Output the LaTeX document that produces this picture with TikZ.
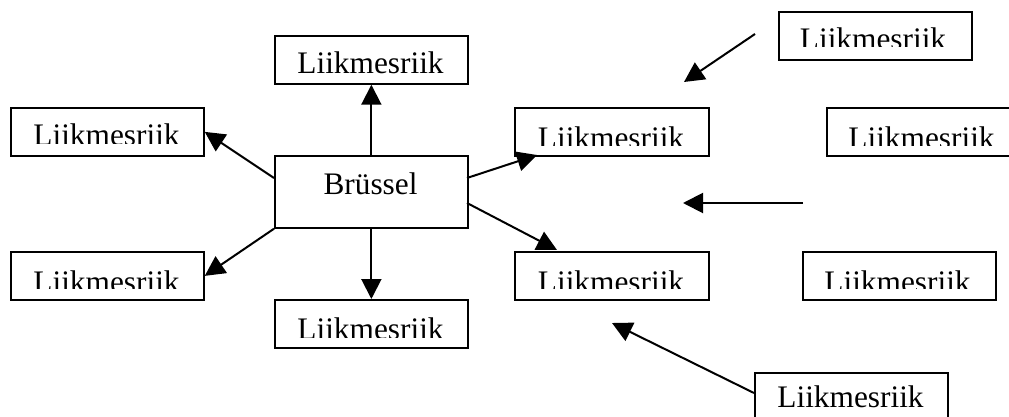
\documentclass[tikz,border=0pt]{standalone}
\usepackage{fontspec}
\setmainfont{Liberation Serif}
\usetikzlibrary{arrows.meta,calc}
\begin{document}
\begin{tikzpicture}[x=0.75pt,y=-0.75pt,
  box/.style={draw, line width=1.3pt, inner sep=0pt, anchor=north west, minimum width=144.75pt, minimum height=36pt},
  lbl/.style={font=\fontsize{23.5}{28}\selectfont, anchor=base, inner sep=0pt},
  arr/.style={-{Triangle[length=15pt,width=15pt]}, line width=1.5pt}]
\useasboundingbox (0,0) rectangle (1009,417);
% boxes
\node[box] (T) at (274,35) {};
\node[box] (LT) at (10,107) {};
\node[box, minimum height=54pt] (B) at (274,155) {};
\node[box] (LB) at (10,251) {};
\node[box] (Bot) at (274,299) {};
\node[box, minimum width=145.5pt] (M) at (514,107) {};
\node[box, minimum width=145.5pt] (LM) at (514,251) {};
\node[box] (TR) at (778,11) {};
\node[box] (RM) at (826,107) {};
\node[box] (RL) at (802,251) {};
\node[box] (BR) at (754,372) {};
% labels
\node[lbl] (Tt) at (370.5,73.5) {Liikmesriik};
\node[lbl] (Bt) at (370.5,195) {Brüssel};
\node[lbl] (BRt) at (850.5,407) {Liikmesriik};
\begin{scope}\clip (10,107) rectangle (203,144);
\node[lbl] (LTt) at (106.5,146) {Liikmesriik};\end{scope}
\begin{scope}\clip (10,251) rectangle (203,288);
\node[lbl] (LBt) at (106.5,292) {Liikmesriik};\end{scope}
\begin{scope}\clip (274,299) rectangle (467,337);
\node[lbl] (Bott) at (370.5,339) {Liikmesriik};\end{scope}
\begin{scope}\clip (514,107) rectangle (708,146);
\node[lbl] (Mt) at (611,148) {Liikmesriik};\end{scope}
\begin{scope}\clip (514,251) rectangle (708,288);
\node[lbl] (LMt) at (611,292) {Liikmesriik};\end{scope}
\begin{scope}\clip (778,11) rectangle (971,47);
\node[lbl] (TRt) at (873,50) {Liikmesriik};\end{scope}
\begin{scope}\clip (826,107) rectangle (1019,146);
\node[lbl] (RMt) at (921.5,148) {Liikmesriik};\end{scope}
\begin{scope}\clip (802,251) rectangle (995,288);
\node[lbl] (RLt) at (897.5,292) {Liikmesriik};\end{scope}
% free ends
\coordinate (Bw) at (274,178);
\coordinate (Be1) at (467,178);
\coordinate (Be2) at (467,203);
\coordinate (Mtip) at (537,155);
\coordinate (LMtip) at (557,250);
\coordinate (gs) at (755,34);
\coordinate (ge) at (684,82);
\coordinate (hs) at (803,203);
\coordinate (he) at (683,203);
\coordinate (BRw) at (754,393);
\coordinate (ie) at (612,323);
% connectors
\draw[arr] (B.north) -- (T.south);
\draw[arr] (Bw) -- (LT.east);
\draw[arr] (B.south west) -- (LB.east);
\draw[arr] (B.south) -- (Bot.north);
\draw[arr] (Be1) -- (Mtip);
\draw[arr] (Be2) -- (LMtip);
\draw[arr] (gs) -- (ge);
\draw[arr] (hs) -- (he);
\draw[arr] (BRw) -- (ie);
\end{tikzpicture}
\end{document}
